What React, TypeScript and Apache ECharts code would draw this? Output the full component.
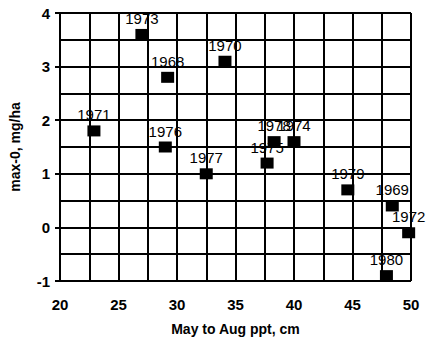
import React, { useEffect, useRef } from "react";
import * as echarts from "echarts";

const years = ["1973", "1968", "1970", "1971", "1976", "1977", "1978", "1974", "1975", "1979", "1969", "1972", "1980"];
const pptCm = [27.0, 29.2, 34.1, 22.9, 29.0, 32.5, 38.3, 40.0, 37.7, 44.6, 48.4, 49.8, 47.9];
const maxZero = [3.6, 2.8, 3.1, 1.8, 1.5, 1.0, 1.6, 1.6, 1.2, 0.7, 0.4, -0.1, -0.9];

export default function App() {
  const ref = useRef<HTMLDivElement>(null);
  useEffect(() => {
    document.body.style.margin = "0";
    const chart = echarts.init(ref.current!, null, { renderer: "svg" });
    const font = "Liberation Sans, Arial, sans-serif";
    const grid = { color: "#000", width: 2, opacity: 1 };
    chart.setOption({
      animation: false,
      backgroundColor: "#ffffff",
      grid: { left: 59, top: 13, right: 21, bottom: 65, containLabel: false },
      xAxis: {
        type: "value",
        min: 20,
        max: 50,
        interval: 5,
        name: "May to Aug ppt, cm",
        nameLocation: "middle",
        nameGap: 41,
        nameTextStyle: { fontFamily: font, fontWeight: "bold", fontSize: 14, color: "#000" },
        axisLine: { show: true, lineStyle: { color: "#000", width: 2 } },
        axisTick: { show: true, inside: false, length: 5, lineStyle: { color: "#000", width: 2 } },
        axisLabel: { fontFamily: font, fontWeight: "bold", fontSize: 15, color: "#000", margin: 16 },
        splitLine: { show: true, lineStyle: grid },
        minorTick: { show: false, splitNumber: 2 },
        minorSplitLine: { show: true, lineStyle: grid },
      },
      yAxis: {
        type: "value",
        min: -1,
        max: 4,
        interval: 1,
        name: "max-0, mg/ha",
        nameLocation: "middle",
        nameGap: 38,
        nameTextStyle: { fontFamily: font, fontWeight: "bold", fontSize: 14, color: "#000" },
        axisLine: { show: true, lineStyle: { color: "#000", width: 2 } },
        axisTick: { show: true, inside: false, length: 5, lineStyle: { color: "#000", width: 2 } },
        axisLabel: { fontFamily: font, fontWeight: "bold", fontSize: 15, color: "#000", margin: 10 },
        splitLine: { show: true, lineStyle: grid },
        minorTick: { show: false, splitNumber: 2 },
        minorSplitLine: { show: true, lineStyle: grid },
      },
      series: [
        {
          type: "scatter",
          symbol: "rect",
          symbolSize: [13, 11],
          itemStyle: { color: "#000", opacity: 1 },
          data: pptCm.map((x, i) => ({ value: [x, maxZero[i]], name: years[i] })),
          label: {
            show: true,
            position: "top",
            distance: 3,
            formatter: (p: any) => p.name,
            fontFamily: font,
            fontSize: 15,
            color: "#000",
          },
        },
      ],
    });
    return () => chart.dispose();
  }, []);
  return <div ref={ref} style={{ position: "fixed", left: 0, top: 0, width: 432, height: 346 }} />;
}
